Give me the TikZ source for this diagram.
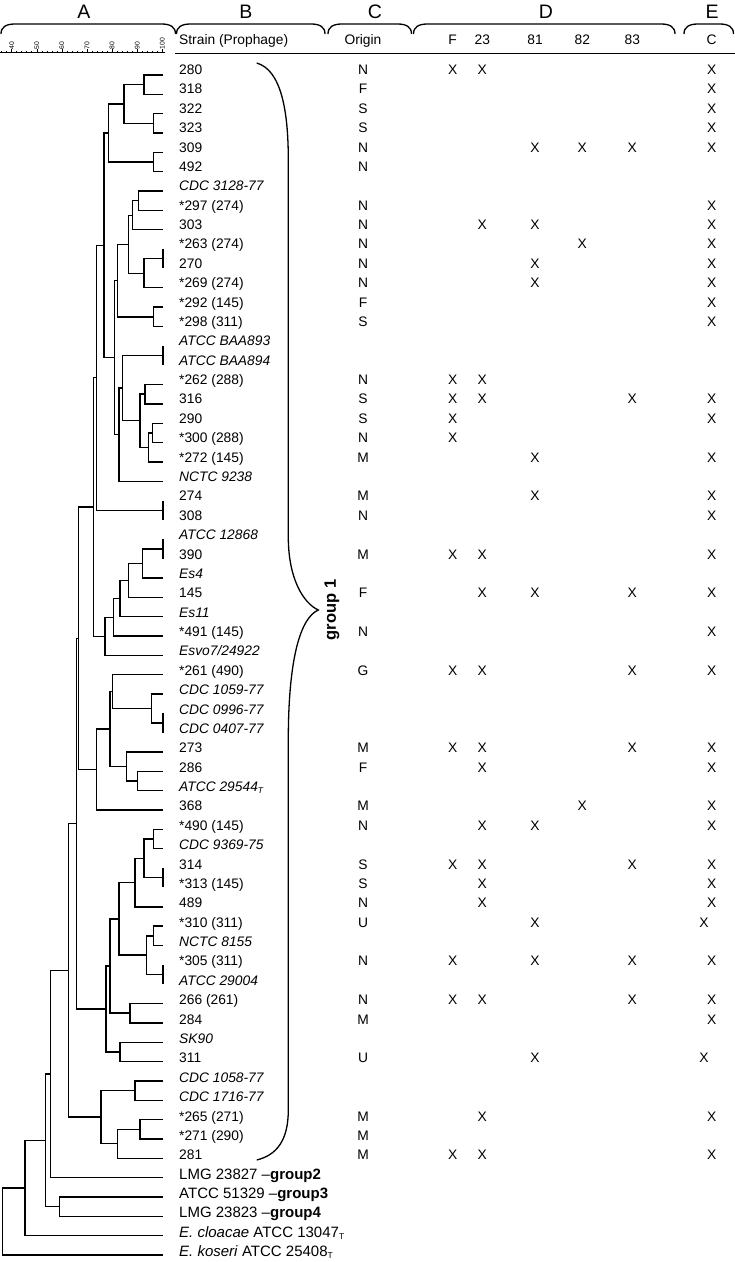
\documentclass[tikz,border=0pt]{standalone}
\usepackage{fontspec}
\setmainfont{Liberation Sans}
\usetikzlibrary{calc}
\newcommand\subT{\raisebox{-1.8pt}{\fontsize{8.5}{9}\selectfont T}}
\newcommand\lowsize{\fontsize{15}{15}\selectfont}
\newcommand\mk[3]{\if\relax\detokenize{#3}\relax\else\node[cell] (#1) at (#2,\ty) {#3};\fi}
\newcommand\trow[9]{%
  \pgfmathsetmacro\ty{74.5+(#1-1)*19.38}%
  \pgfmathsetmacro\ly{75+(#1-1)*19.344}%
  \coordinate (L#1) at (163,\ly);
  \node[lbl] (s#1) at (179,\ty) {#2};
  \mk{o#1}{363}{#3}\mk{f#1}{452.7}{#4}\mk{t#1}{482.3}{#5}\mk{u#1}{535}{#6}\mk{v#1}{582.3}{#7}\mk{w#1}{632.3}{#8}\mk{c#1}{711.7}{#9}}
\newcommand\tn[4]{\path let \p1=(#3), \p2=(#4) in coordinate (#1) at (#2pt,{0.5*(\y1+\y2)});
  \draw[tree] (#3) -| (#1) |- (#4);}
\newcommand\hbr[2]{\draw[brc] (#1,34) .. controls (#1,27) and (#1+5,24) .. (#1+14,24) -- (#2-14,24) .. controls (#2-5,24) and (#2,27) .. (#2,34);}
\begin{document}
\begin{tikzpicture}[x=1pt,y=-1pt,
  lbl/.style={anchor=base west,inner sep=0pt,font=\fontsize{13.8}{14}\selectfont},
  cell/.style={anchor=base,inner sep=0pt,font=\fontsize{13.8}{14}\selectfont},
  hdr/.style={inner sep=0pt,font=\fontsize{19.5}{20}\selectfont},
  tree/.style={line width=1.4pt,line join=miter},
  brc/.style={line width=1.3pt},
  rul/.style={line width=0.6pt},
  tick/.style={rotate=90,anchor=west,inner sep=0pt,font=\fontsize{6.8}{7}\selectfont}]
\useasboundingbox (0,0) rectangle (735,1262);
\fill[white] (0,0) rectangle (735,1262);
% header letters and braces
\node[hdr] (hA) at (84,12) {A};
\node[hdr] (hB) at (246,12) {B};
\node[hdr] (hC) at (375,12) {C};
\node[hdr] (hD) at (546,12) {D};
\node[hdr] (hE) at (712,12) {E};
\hbr{1}{175.5}
\hbr{176.5}{325}
\hbr{328}{411.5}
\hbr{413.5}{675}
\hbr{684}{733.5}
% ruler
\draw[rul] (0,52.3) -- (165,52.3);
\foreach \v in {36,38,...,100} \draw[rul] ({11.7+(\v-40)*2.51},52.3) -- ++(0,-1.5);
\foreach \v in {40,50,...,100} {\draw[rul] ({11.7+(\v-40)*2.51},52.3) -- ++(0,-3);
  \node[tick] (k\v) at ({11.7+(\v-40)*2.51},49.5) {\v};}
% column headers
\node[lbl] (hStrain) at (179,44) {Strain (Prophage)};
\node[cell] (hOrig) at (363,44) {Origin};
\node[cell] (hF) at (452.7,44) {F};
\node[cell] (h23) at (482.3,44) {23};
\node[cell] (h81) at (535,44) {81};
\node[cell] (h82) at (582.3,44) {82};
\node[cell] (h83) at (632.3,44) {83};
\node[cell] (hCC) at (711.7,44) {C};
\draw[rul,line width=1pt] (175,53.3) -- (735,53.3);
% rows
\trow{1}{280}{N}{X}{X}{}{}{}{X}
\trow{2}{318}{F}{}{}{}{}{}{X}
\trow{3}{322}{S}{}{}{}{}{}{X}
\trow{4}{323}{S}{}{}{}{}{}{X}
\trow{5}{309}{N}{}{}{X}{X}{X}{X}
\trow{6}{492}{N}{}{}{}{}{}{}
\trow{7}{\textit{CDC 3128-77}}{}{}{}{}{}{}{}
\trow{8}{*297 (274)}{N}{}{}{}{}{}{X}
\trow{9}{303}{N}{}{X}{X}{}{}{X}
\trow{10}{*263 (274)}{N}{}{}{}{X}{}{X}
\trow{11}{270}{N}{}{}{X}{}{}{X}
\trow{12}{*269 (274)}{N}{}{}{X}{}{}{X}
\trow{13}{*292 (145)}{F}{}{}{}{}{}{X}
\trow{14}{*298 (311)}{S}{}{}{}{}{}{X}
\trow{15}{\textit{ATCC BAA893}}{}{}{}{}{}{}{}
\trow{16}{\textit{ATCC BAA894}}{}{}{}{}{}{}{}
\trow{17}{*262 (288)}{N}{X}{X}{}{}{}{}
\trow{18}{316}{S}{X}{X}{}{}{X}{X}
\trow{19}{290}{S}{X}{}{}{}{}{X}
\trow{20}{*300 (288)}{N}{X}{}{}{}{}{}
\trow{21}{*272 (145)}{M}{}{}{X}{}{}{X}
\trow{22}{\textit{NCTC 9238}}{}{}{}{}{}{}{}
\trow{23}{274}{M}{}{}{X}{}{}{X}
\trow{24}{308}{N}{}{}{}{}{}{X}
\trow{25}{\textit{ATCC 12868}}{}{}{}{}{}{}{}
\trow{26}{390}{M}{X}{X}{}{}{}{X}
\trow{27}{\textit{Es4}}{}{}{}{}{}{}{}
\trow{28}{145}{F}{}{X}{X}{}{X}{X}
\trow{29}{\textit{Es11}}{}{}{}{}{}{}{}
\trow{30}{*491 (145)}{N}{}{}{}{}{}{X}
\trow{31}{\textit{Esvo7/24922}}{}{}{}{}{}{}{}
\trow{32}{*261 (490)}{G}{X}{X}{}{}{X}{X}
\trow{33}{\textit{CDC 1059-77}}{}{}{}{}{}{}{}
\trow{34}{\textit{CDC 0996-77}}{}{}{}{}{}{}{}
\trow{35}{\textit{CDC 0407-77}}{}{}{}{}{}{}{}
\trow{36}{273}{M}{X}{X}{}{}{X}{X}
\trow{37}{286}{F}{}{X}{}{}{}{X}
\trow{38}{\textit{ATCC 29544\subT}}{}{}{}{}{}{}{}
\trow{39}{368}{M}{}{}{}{X}{}{X}
\trow{40}{*490 (145)}{N}{}{X}{X}{}{}{X}
\trow{41}{\textit{CDC 9369-75}}{}{}{}{}{}{}{}
\trow{42}{314}{S}{X}{X}{}{}{X}{X}
\trow{43}{*313 (145)}{S}{}{X}{}{}{}{X}
\trow{44}{489}{N}{}{X}{}{}{}{X}
\trow{45}{*310 (311)}{U}{}{}{X}{}{}{}
\trow{46}{\textit{NCTC 8155}}{}{}{}{}{}{}{}
\trow{47}{*305 (311)}{N}{X}{}{X}{}{X}{X}
\trow{48}{\textit{ATCC 29004}}{}{}{}{}{}{}{}
\trow{49}{266 (261)}{N}{X}{X}{}{}{X}{X}
\trow{50}{284}{M}{}{}{}{}{}{X}
\trow{51}{\textit{SK90}}{}{}{}{}{}{}{}
\trow{52}{311}{U}{}{}{X}{}{}{}
\trow{53}{\textit{CDC 1058-77}}{}{}{}{}{}{}{}
\trow{54}{\textit{CDC 1716-77}}{}{}{}{}{}{}{}
\trow{55}{*265 (271)}{M}{}{X}{}{}{}{X}
\trow{56}{*271 (290)}{M}{}{}{}{}{}{}
\trow{57}{281}{M}{X}{X}{}{}{}{X}
\trow{58}{\lowsize LMG 23827 –\textbf{group2}}{}{}{}{}{}{}{}
\trow{59}{\lowsize ATCC 51329 –\textbf{group3}}{}{}{}{}{}{}{}
\trow{60}{\lowsize LMG 23823 –\textbf{group4}}{}{}{}{}{}{}{}
\trow{61}{\lowsize\textit{E. cloacae} ATCC 13047\subT}{}{}{}{}{}{}{}
\trow{62}{\lowsize\textit{E. koseri} ATCC 25408\subT}{}{}{}{}{}{}{}
\node[cell] (c45) at (704,927.2) {X};
\node[cell] (c52) at (704,1062.9) {X};
% dendrogram
\tn{a1}{144}{L1}{L2}
\tn{a2}{153.3}{L3}{L4}
\tn{a3}{124}{a1}{a2}
\tn{a4}{153.3}{L5}{L6}
\tn{a5}{108.3}{a3}{a4}
\tn{b1}{138.3}{L7}{L8}
\tn{b2}{132.7}{b1}{L9}
\tn{b3}{163}{L10}{L11}
\tn{b4}{144}{b3}{L12}
\tn{b5}{128.3}{b2}{b4}
\tn{b6}{153.3}{L13}{L14}
\tn{b7}{117.3}{b5}{b6}
\tn{c1}{163}{L15}{L16}
\tn{c2}{145}{L17}{L18}
\tn{c3}{152.5}{L19}{L20}
\tn{c4}{148.3}{c3}{L21}
\tn{c5}{140}{c2}{c4}
\tn{c6}{122.7}{c1}{c5}
\tn{c7}{119}{c6}{L22}
\tn{c8}{114.3}{b7}{c7}
\tn{d1}{104}{a5}{c8}
\tn{d2}{163}{L23}{L24}
\tn{d3}{96.7}{d1}{d2}
\tn{e1}{163}{L25}{L26}
\tn{e2}{142.7}{e1}{L27}
\tn{e3}{128.3}{e2}{L28}
\tn{e4}{120}{e3}{L29}
\tn{e5}{113.3}{e4}{L30}
\tn{e6}{105}{e5}{L31}
\tn{e7}{93.3}{d3}{e6}
\tn{f1}{163}{L34}{L35}
\tn{f2}{151.7}{L33}{f1}
\tn{f3}{112.7}{L32}{f2}
\tn{f4}{137.7}{L37}{L38}
\tn{f5}{126.7}{L36}{f4}
\tn{f6}{110}{f3}{f5}
\tn{f7}{96.7}{f6}{L39}
\tn{g0}{78.3}{e7}{f7}
\tn{h1}{153.3}{L40}{L41}
\tn{h2}{163}{L42}{L43}
\tn{h3}{144}{h1}{h2}
\tn{h4}{135}{h3}{L44}
\tn{h5}{153.3}{L45}{L46}
\tn{h6}{163}{L47}{L48}
\tn{h7}{146.7}{h5}{h6}
\tn{h8}{119}{h4}{h7}
\tn{h9}{130}{L49}{L50}
\tn{h10}{110}{h8}{h9}
\tn{h11}{120}{L51}{L52}
\tn{h12}{106}{h10}{h11}
\tn{g1}{76.7}{g0}{h12}
\tn{k1}{135}{L53}{L54}
\tn{k2}{140}{L55}{L56}
\tn{k3}{117.3}{k2}{L57}
\tn{k4}{101}{k1}{k3}
\tn{g2}{68.3}{g1}{k4}
\tn{m1}{50.7}{g2}{L58}
\tn{m2}{59.3}{L59}{L60}
\tn{m3}{45.7}{m1}{m2}
\tn{m4}{25}{m3}{L61}
\tn{root}{2.7}{m4}{L62}
% group 1 brace
\draw[brc] (256.7,63) .. controls (281,70) and (288.3,110) .. (288.3,160) -- (288.3,537) .. controls (288.3,578) and (303,603) .. (318.3,610) .. controls (300,618) and (288.3,660) .. (288.3,740) -- (288.3,1110) .. controls (288.3,1140) and (277,1155) .. (256.7,1160);
\node[rotate=90,inner sep=0pt,font=\bfseries\fontsize{16.5}{17}\selectfont] (grp) at (332,610) {group 1};
\end{tikzpicture}
\end{document}
